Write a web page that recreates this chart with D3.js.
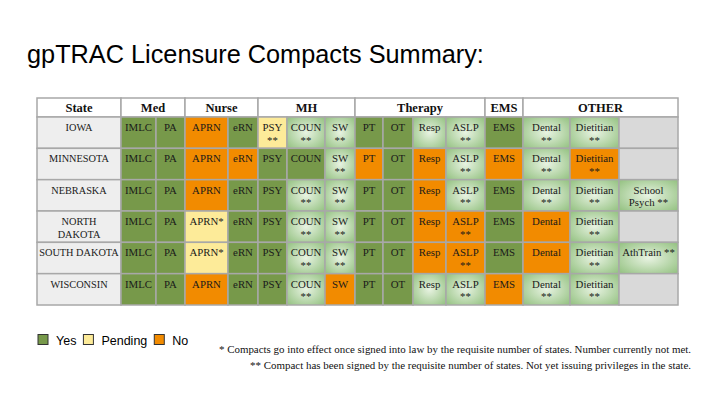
<!DOCTYPE html>
<html>
<head>
<meta charset="utf-8">
<script src="https://cdn.jsdelivr.net/npm/d3@7/dist/d3.min.js"></script>
<style>
body { margin: 0; background: #fff; }
</style>
</head>
<body>
<script>
var states = ["IOWA", "MINNESOTA", "NEBRASKA", "NORTH DAKOTA", "SOUTH DAKOTA", "WISCONSIN"];
var columns = ["IMLC", "PA", "APRN", "eRN", "PSY", "COUN", "SW", "PT", "OT", "Resp", "ASLP", "EMS", "Dental", "Dietitian", "Extra"];
var groupNames = ["State", "Med", "Nurse", "MH", "Therapy", "EMS", "OTHER"];
var groupSpans = [1, 2, 2, 3, 4, 1, 3];

// Y = yes, P = pending, N = no, S = signed, not yet issuing, E = empty
var statusIowa = ["Y","Y","N","Y","P","S","S","Y","Y","S","S","Y","S","S","E"];
var statusMinnesota = ["Y","Y","N","N","Y","Y","S","N","Y","N","S","N","S","N","E"];
var statusNebraska = ["Y","Y","N","Y","Y","S","S","Y","Y","N","S","Y","S","S","S"];
var statusNorthDakota = ["Y","Y","P","Y","Y","S","S","Y","Y","N","N","Y","N","S","E"];
var statusSouthDakota = ["Y","Y","P","Y","Y","S","S","Y","Y","N","N","Y","N","S","S"];
var statusWisconsin = ["Y","Y","N","Y","Y","S","N","Y","Y","S","S","N","S","S","E"];

// "|" marks a line break inside a cell
var labelsIowa = ["IMLC","PA","APRN","eRN","PSY|**","COUN|**","SW|**","PT","OT","Resp","ASLP|**","EMS","Dental|**","Dietitian|**",""];
var labelsMinnesota = ["IMLC","PA","APRN","eRN","PSY","COUN","SW|**","PT","OT","Resp","ASLP|**","EMS","Dental|**","Dietitian|**",""];
var labelsNebraska = ["IMLC","PA","APRN","eRN","PSY","COUN|**","SW|**","PT","OT","Resp","ASLP|**","EMS","Dental|**","Dietitian|**","School|Psych **"];
var labelsNorthDakota = ["IMLC","PA","APRN*","eRN","PSY","COUN|**","SW|**","PT","OT","Resp","ASLP|**","EMS","Dental","Dietitian|**",""];
var labelsSouthDakota = ["IMLC","PA","APRN*","eRN","PSY","COUN|**","SW|**","PT","OT","Resp","ASLP|**","EMS","Dental","Dietitian|**","AthTrain **"];
var labelsWisconsin = ["IMLC","PA","APRN","eRN","PSY","COUN|**","SW","PT","OT","Resp","ASLP|**","EMS","Dental|**","Dietitian|**",""];

var stateLabels = ["IOWA", "MINNESOTA", "NEBRASKA", "NORTH|DAKOTA", "SOUTH DAKOTA", "WISCONSIN"];
var legendNames = ["Yes", "Pending", "No"];
var legendCodes = ["Y", "P", "N"];
var notes = [
  "* Compacts go into effect once signed into law by the requisite number of states. Number currently not met.",
  "** Compact has been signed by the requisite number of states. Not yet issuing privileges in the state."
];

var statusRows = [statusIowa, statusMinnesota, statusNebraska, statusNorthDakota, statusSouthDakota, statusWisconsin];
var labelRows = [labelsIowa, labelsMinnesota, labelsNebraska, labelsNorthDakota, labelsSouthDakota, labelsWisconsin];

// layout
var W = 717, H = 401;
var tableLeft = 37, headTop = 98, bodyTop = 117, bodyBottom = 305;
var colW = [84, 35, 29, 43, 30, 29, 38, 30, 28, 30, 33, 39, 38, 47, 49, 59];
var noteW = [472, 441];
var serif = "Georgia, 'Liberation Serif', 'DejaVu Serif', serif";
var sans = "Arial, 'Liberation Sans', Helvetica, sans-serif";

var fills = {Y: "#77994a", P: "#fdeb99", N: "#f28b00", S: "url(#signed)", E: "#d9d9d9"};

var allCols = ["State"].concat(columns);
var edges = [tableLeft];
colW.forEach(function(w, i) { edges.push(edges[i] + w); });

var x = d3.scaleOrdinal().domain(allCols).range(edges.slice(0, -1));
var width = d3.scaleOrdinal().domain(allCols).range(colW);
var y = d3.scaleBand().domain(states).range([bodyTop, bodyBottom]).padding(0);

var svg = d3.select("body").append("svg")
  .attr("width", W)
  .attr("height", H);

var grad = svg.append("defs").append("radialGradient")
  .attr("id", "signed")
  .attr("cx", "50%").attr("cy", "50%").attr("r", "65%");
grad.append("stop").attr("offset", "0%").attr("stop-color", "#e8f3e2");
grad.append("stop").attr("offset", "100%").attr("stop-color", "#98c486");

svg.append("text")
  .attr("x", 27)
  .attr("y", 63)
  .attr("font-family", sans)
  .attr("font-size", 25.3)
  .attr("fill", "#000")
  .text("gpTRAC Licensure Compacts Summary:");

// header row
var groupStart = [];
var acc = 0;
groupSpans.forEach(function(s) { groupStart.push(acc); acc += s; });

var head = svg.append("g");
groupNames.forEach(function(g, i) {
  var c0 = allCols[groupStart[i]];
  var c1 = allCols[groupStart[i] + groupSpans[i] - 1];
  var gx = x(c0), gw = x(c1) + width(c1) - x(c0);
  head.append("rect")
    .attr("x", gx).attr("y", headTop)
    .attr("width", gw).attr("height", bodyTop - headTop)
    .attr("fill", "#fff")
    .attr("stroke", "#a8a8a8")
    .attr("stroke-width", 1.5);
  head.append("text")
    .attr("x", gx + gw / 2)
    .attr("y", headTop + 14)
    .attr("text-anchor", "middle")
    .attr("font-family", serif)
    .attr("font-size", 12.5)
    .attr("font-weight", "bold")
    .attr("fill", "#111")
    .text(g);
});

function cellText(g, label, cx, top, size) {
  var lines = label.split("|");
  lines.forEach(function(l, k) {
    g.append("text")
      .attr("x", cx)
      .attr("y", top + 14 + k * 12.5)
      .attr("text-anchor", "middle")
      .attr("font-family", serif)
      .attr("font-size", size)
      .attr("fill", "#1a1a1a")
      .text(l);
  });
}

var body = svg.append("g");
states.forEach(function(st, r) {
  var top = y(st), bh = y.bandwidth();
  body.append("rect")
    .attr("x", x("State")).attr("y", top)
    .attr("width", width("State")).attr("height", bh)
    .attr("fill", "#eeeeee")
    .attr("stroke", "#a8a8a8")
    .attr("stroke-width", 1.5);
  cellText(body, stateLabels[r], x("State") + width("State") / 2, top, 10.3);

  columns.forEach(function(c, j) {
    var code = statusRows[r][j];
    body.append("rect")
      .attr("x", x(c)).attr("y", top)
      .attr("width", width(c)).attr("height", bh)
      .attr("fill", fills[code])
      .attr("stroke", "#a8a8a8")
      .attr("stroke-width", 1.5);
    if (labelRows[r][j]) {
      cellText(body, labelRows[r][j], x(c) + width(c) / 2, top, 10.8);
    }
  });
});

// legend
var lg = svg.append("g");
var lx = 38;
legendNames.forEach(function(name, i) {
  lg.append("rect")
    .attr("x", lx).attr("y", 334.5)
    .attr("width", 10).attr("height", 10)
    .attr("fill", fills[legendCodes[i]])
    .attr("stroke", "#333")
    .attr("stroke-width", 1);
  var t = lg.append("text")
    .attr("x", lx + 18)
    .attr("y", 344.5)
    .attr("font-family", sans)
    .attr("font-size", 12.5)
    .attr("fill", "#000")
    .text(name);
  lx += 18 + t.node().getComputedTextLength() + 7;
});

// footnotes
notes.forEach(function(n, i) {
  svg.append("text")
    .attr("x", 691)
    .attr("y", 353 + i * 16)
    .attr("text-anchor", "end")
    .attr("font-family", serif)
    .attr("font-size", 10.5)
    .attr("textLength", noteW[i])
    .attr("lengthAdjust", "spacingAndGlyphs")
    .attr("fill", "#111")
    .text(n);
});
</script>
</body>
</html>
